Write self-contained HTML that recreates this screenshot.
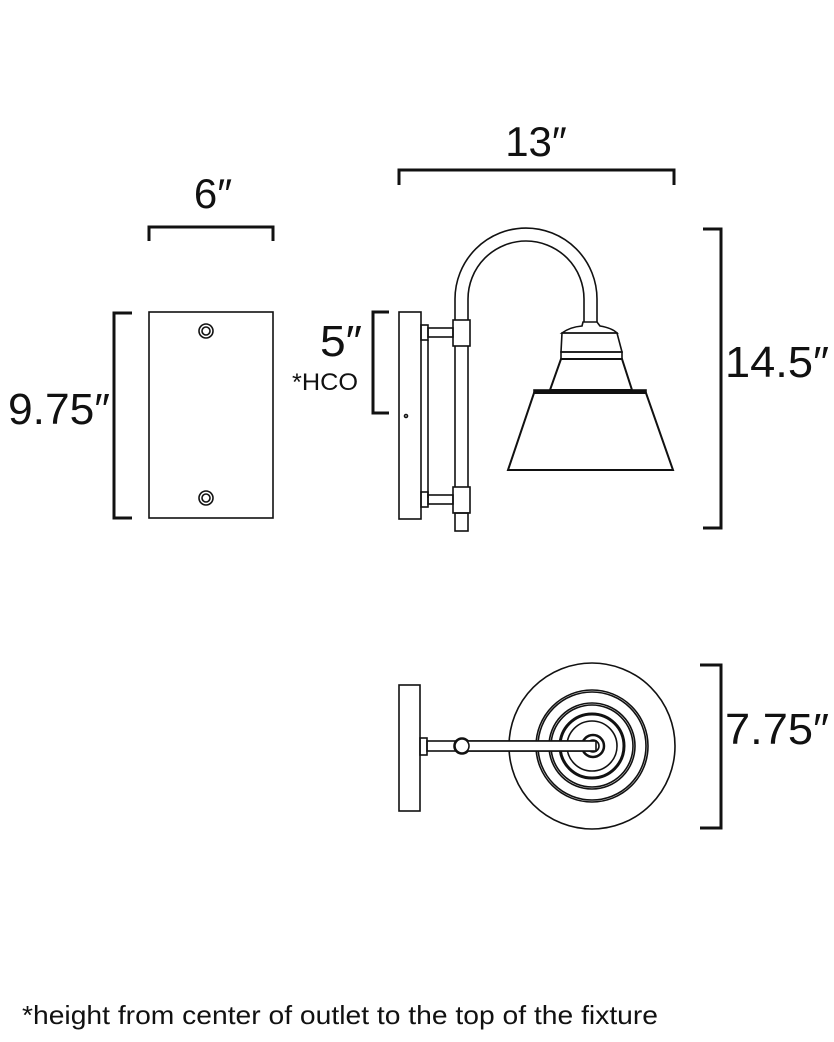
<!DOCTYPE html>
<html><head><meta charset="utf-8"><style>
html,body{margin:0;padding:0;background:#fff;}
svg{display:block;}
text{font-family:"Liberation Sans",sans-serif;fill:#111;}
</style></head><body>
<svg width="834" height="1042" viewBox="0 0 834 1042" xmlns="http://www.w3.org/2000/svg">
<g fill="none" stroke="#111" stroke-width="3">
<!-- 6 bracket -->
<polyline points="149,241 149,227 273,227 273,241"/>
<!-- 9.75 bracket -->
<polyline points="132,313 114,313 114,518 132,518"/>
<!-- 13 bracket -->
<polyline points="399,185 399,170 674,170 674,185"/>
<!-- 14.5 bracket -->
<polyline points="703,229 721,229 721,528 703,528"/>
<!-- 5 bracket -->
<polyline points="389,312 373,312 373,413 389,413"/>
<!-- 7.75 bracket -->
<polyline points="700,665 721,665 721,828 700,828"/>
</g>
<g fill="none" stroke="#111" stroke-width="1.6">
<!-- front plate -->
<rect x="149" y="312" width="124" height="206"/>
<circle cx="206" cy="331" r="7"/><circle cx="206" cy="331" r="4"/>
<circle cx="206" cy="498" r="7"/><circle cx="206" cy="498" r="4"/>
<!-- side view -->
<rect x="399" y="312" width="22" height="207"/>
<line x1="428" y1="340" x2="428" y2="498"/>
<circle cx="406" cy="416" r="1.5"/>
<rect x="421" y="325" width="7" height="15"/>
<rect x="428" y="328" width="25" height="9"/>
<rect x="453" y="320" width="17" height="26"/>
<rect x="421" y="492" width="7" height="15"/>
<rect x="428" y="495" width="25" height="9"/>
<rect x="453" y="487" width="17" height="26"/>
<line x1="455" y1="346" x2="455" y2="487"/>
<line x1="468" y1="346" x2="468" y2="487"/>
<rect x="455" y="513" width="13" height="18"/>
<path d="M455,320 L455,299 A71,71 0 0 1 597,299 L597,322"/>
<path d="M468,320 L468,299 A58,58 0 0 1 584,299 L584,322"/>
<path d="M583,322 L597,322 L600,326 Q612,328 617,333 L562,333 Q570,327 582,326 Z"/>
<path d="M562,333 L617,333 L622,352 L561,352 Z"/>
<rect x="561" y="352" width="61" height="7"/>
<path d="M561,359 L622,359 L632,390 L550,390 Z" stroke-width="2"/>
<rect x="534" y="390" width="112" height="3" fill="#111"/>
<path d="M534,393 L646,393 L673,470 L508,470 Z" stroke-width="2"/>
<!-- top view -->
<rect x="399" y="685" width="21" height="126"/>
<rect x="420" y="738" width="7" height="17"/>
<rect x="427" y="741" width="33" height="10"/>
<circle cx="462" cy="746" r="8"/>
<rect x="462" y="741" width="133" height="10" fill="#fff"/>
<circle cx="592" cy="746" r="83"/>
<circle cx="592" cy="746" r="56"/><circle cx="592" cy="746" r="54"/>
<circle cx="592" cy="746" r="43"/><circle cx="592" cy="746" r="41"/>
<circle cx="592" cy="746" r="32" stroke-width="3"/>
<circle cx="592" cy="746" r="25"/>
<circle cx="593" cy="746" r="11" stroke-width="2.5"/>
<circle cx="593" cy="746" r="6"/>
<rect x="462" y="741" width="134" height="10" fill="#fff"/>
<circle cx="462" cy="746" r="7" fill="#fff"/>
</g>
<text x="213" y="208" font-size="42" text-anchor="middle">6″</text>
<text x="8" y="424" font-size="44" textLength="102" lengthAdjust="spacingAndGlyphs">9.75″</text>
<text x="536" y="156" font-size="42" text-anchor="middle">13″</text>
<text x="725" y="377" font-size="44" textLength="104" lengthAdjust="spacingAndGlyphs">14.5″</text>
<text x="320" y="356" font-size="44" textLength="42" lengthAdjust="spacingAndGlyphs">5″</text>
<text x="292" y="390" font-size="24" textLength="66" lengthAdjust="spacingAndGlyphs">*HCO</text>
<text x="725" y="744" font-size="44" textLength="104" lengthAdjust="spacingAndGlyphs">7.75″</text>
<text x="22" y="1024" font-size="26" textLength="636" lengthAdjust="spacingAndGlyphs">*height from center of outlet to the top of the fixture</text>
</svg>
</body></html>
